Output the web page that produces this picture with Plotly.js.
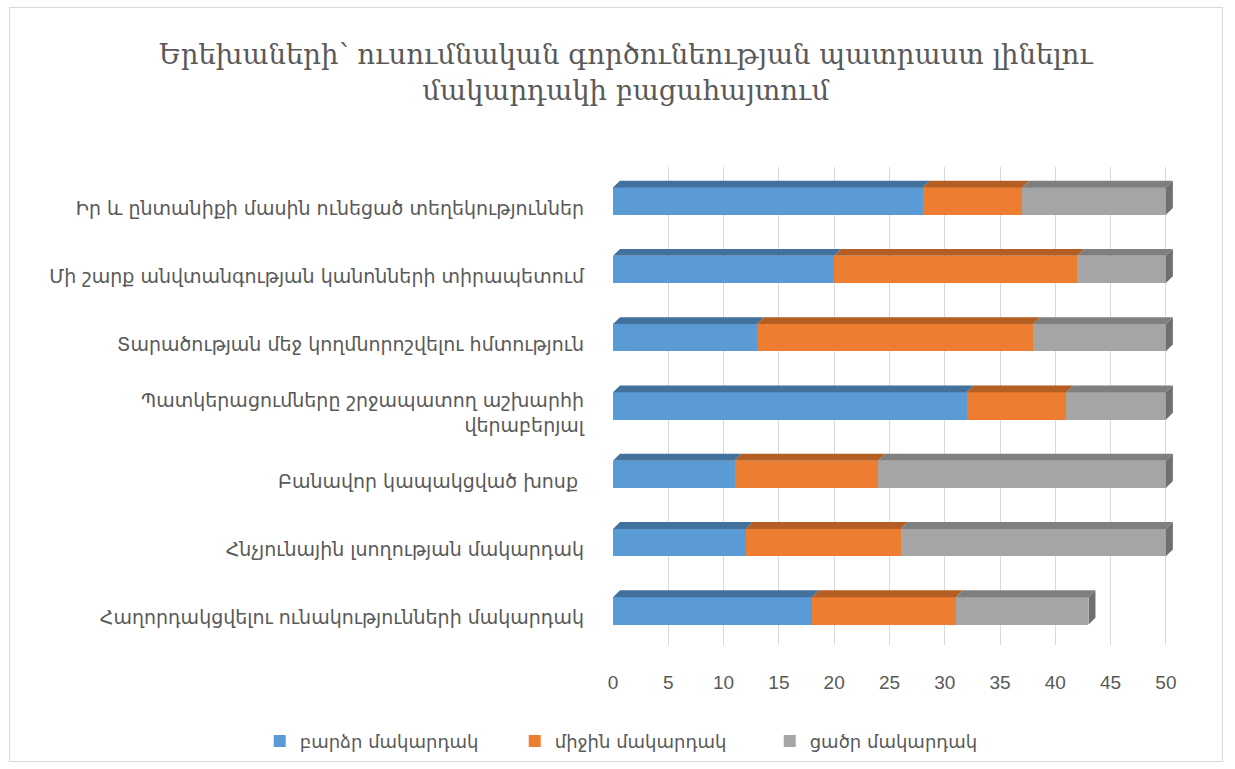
<!DOCTYPE html>
<html>
<head>
<meta charset="utf-8">
<script src="https://cdn.plot.ly/plotly-3.0.1.min.js"></script>
<style>
  html, body { margin: 0; padding: 0; background: #fff; }
  #wrap { position: absolute; left: 9px; top: 7px; width: 1214px; height: 755px; border: 1px solid #D9D9D9; box-sizing: border-box; }
  #chart { width: 1212px; height: 753px; }
</style>
</head>
<body>
<div id="wrap"><div id="chart"></div></div>
<script>
// Categories from top to bottom
var categories = [
  "Իր և ընտանիքի մասին ունեցած տեղեկություններ",
  "Մի շարք անվտանգության կանոնների տիրապետում",
  "Տարածության մեջ կողմնորոշվելու հմտություն",
  "Պատկերացումները շրջապատող աշխարհի<br>վերաբերյալ",
  "Բանավոր կապակցված խոսք ",
  "Հնչյունային լսողության մակարդակ",
  "Հաղորդակցվելու ունակությունների մակարդակ"
];
var seriesNames = ["բարձր մակարդակ", "միջին մակարդակ", "ցածր մակարդակ"];
var high   = [28, 20, 13, 32, 11, 12, 18];
var medium = [9, 22, 25, 9, 13, 14, 13];
var low    = [13, 8, 12, 9, 26, 24, 12];
var xTicks = [0, 5, 10, 15, 20, 25, 30, 35, 40, 45, 50];

var colors = ["#5B9BD5", "#ED7D31", "#A5A5A5"];
var topColors = ["#41719C", "#B45E23", "#7F7F7F"];
var sideColor = "#6F6F6F";
var series = [high, medium, low];

var n = categories.length;
var ypos = categories.map(function(c, i){ return n - 1 - i; });
// category labels sit slightly below the bar centres (3D projection)
var labelPos = ypos.map(function(v){ return v - 0.1; });

var barW = 0.40;
var traces = series.map(function(vals, s){
  return {
    type: "bar", orientation: "h",
    x: vals, y: ypos, name: seriesNames[s],
    width: barW,
    marker: {color: colors[s], line: {width: 0}},
    hoverinfo: "x+name"
  };
});

// 3D top faces and end side face, computed from data
var dx = 0.63, dy = 0.10;
var shapes = [];
for (var i = 0; i < n; i++) {
  var base = 0;
  var yt = ypos[i] + barW / 2, yb = ypos[i] - barW / 2;
  for (var s = 0; s < series.length; s++) {
    var x0 = base, x1 = base + series[s][i];
    shapes.push({
      type: "path", xref: "x", yref: "y", layer: "above",
      path: "M" + x0 + "," + yt + " L" + (x0 + dx) + "," + (yt + dy) + " L" + (x1 + dx) + "," + (yt + dy) + " L" + x1 + "," + yt + " Z",
      fillcolor: topColors[s], line: {width: 0}
    });
    base = x1;
  }
  shapes.push({
    type: "path", xref: "x", yref: "y", layer: "above",
    path: "M" + base + "," + yt + " L" + (base + dx) + "," + (yt + dy) + " L" + (base + dx) + "," + (yb + dy) + " L" + base + "," + yb + " Z",
    fillcolor: sideColor, line: {width: 0}
  });
}

var layout = {
  width: 1212, height: 753,
  paper_bgcolor: "#ffffff", plot_bgcolor: "#ffffff",
  margin: {l: 10, r: 10, t: 159, b: 116},
  barmode: "stack",
  title: {
    text: "Երեխաների՝ ուսումնական գործունեության պատրաստ լինելու<br>մակարդակի բացահայտում",
    font: {family: "DejaVu Serif, serif", size: 27.5, color: "#595959"},
    x: 0.508, xanchor: "center", y: 0.925, yanchor: "middle"
  },
  xaxis: {
    domain: [0.4975, 0.9706],
    range: [0, 51], tickvals: xTicks, ticktext: xTicks.map(String),
    showgrid: true, gridcolor: "#D9D9D9", gridwidth: 1,
    zeroline: false, showline: false, ticks: "",
    ticklabelstandoff: 24, automargin: false,
    tickfont: {family: "Liberation Sans, Arial, sans-serif", size: 19, color: "#595959"},
    fixedrange: true
  },
  yaxis: {
    range: [-0.5, 6.5], tickvals: labelPos, ticktext: categories,
    showgrid: false, zeroline: false, showline: false, ticks: "",
    ticklabelstandoff: 28, automargin: false,
    tickfont: {family: "DejaVu Sans, sans-serif", size: 19, color: "#595959"},
    fixedrange: true
  },
  shapes: shapes,
  showlegend: true,
  legend: {
    orientation: "h", x: 0.522, xanchor: "center",
    yref: "container", y: 0.026, yanchor: "middle",
    font: {family: "DejaVu Sans, sans-serif", size: 18, color: "#595959"},
    traceorder: "normal", entrywidth: 210
  },
  bargap: 0.6
};

Plotly.newPlot("chart", traces, layout, {displayModeBar: false, staticPlot: true});
</script>
</body>
</html>
